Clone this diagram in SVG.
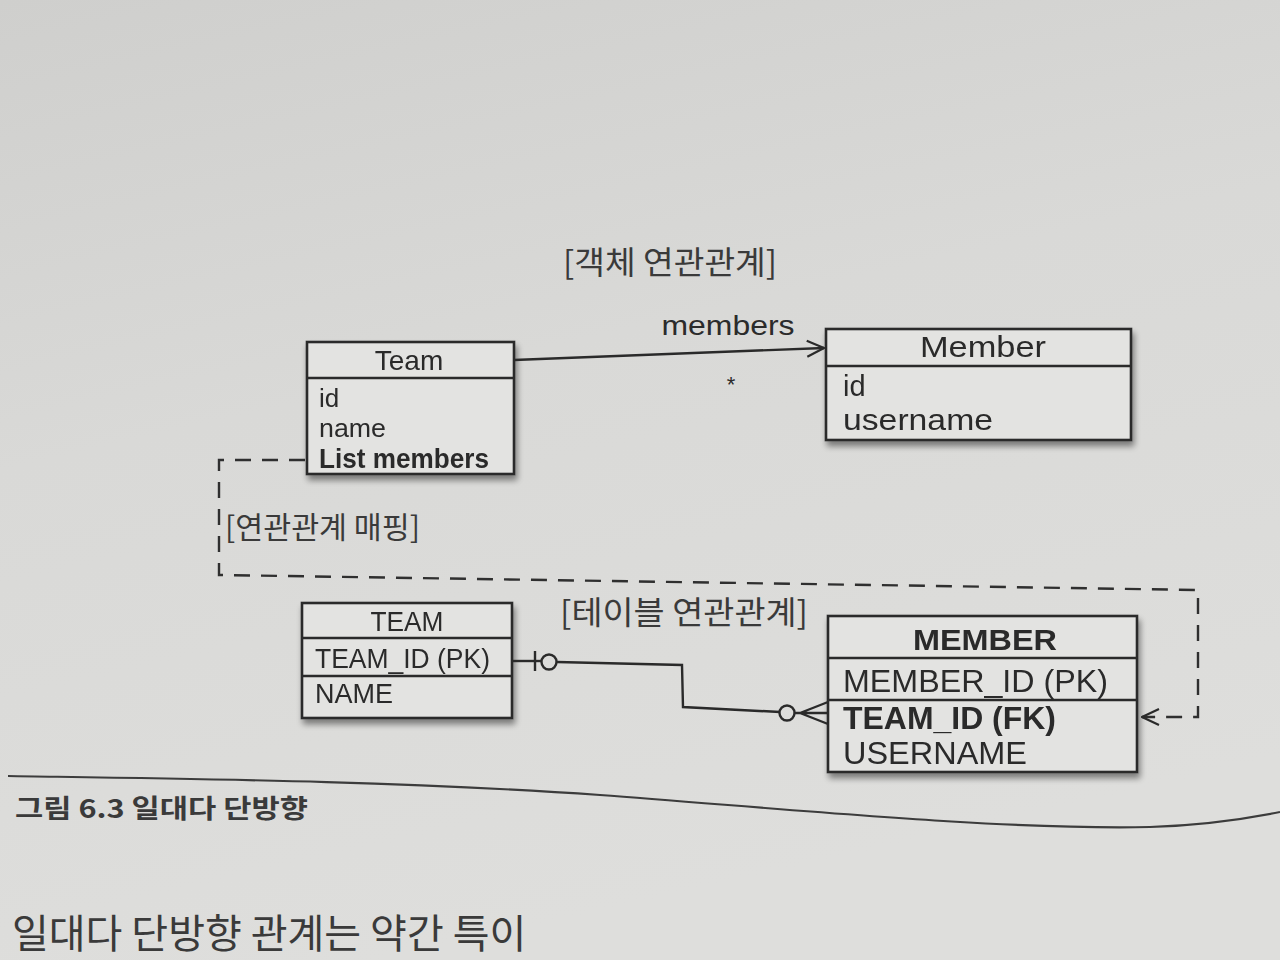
<svg xmlns="http://www.w3.org/2000/svg" width="1280" height="960" viewBox="0 0 1280 960">
<defs>
<linearGradient id="paper" x1="0" y1="0" x2="0.3" y2="1">
<stop offset="0" stop-color="#cfcfcd"/>
<stop offset="0.45" stop-color="#d9d9d7"/>
<stop offset="1" stop-color="#dededc"/>
</linearGradient>
<filter id="shadow" x="-10%" y="-10%" width="130%" height="140%">
<feGaussianBlur in="SourceAlpha" stdDeviation="3"/>
<feOffset dx="2" dy="5"/>
<feComponentTransfer><feFuncA type="linear" slope="0.45"/></feComponentTransfer>
<feMerge><feMergeNode/><feMergeNode in="SourceGraphic"/></feMerge>
</filter>
<marker id="open" viewBox="0 0 20 20" refX="19" refY="10" markerWidth="20" markerHeight="20" markerUnits="userSpaceOnUse" orient="auto">
<path d="M2,2 L19,10 L2,18" fill="none" stroke="#2a2a2a" stroke-width="2.2"/>
</marker>
</defs>
<style>
.box{fill:#e3e3e1;stroke:#2a2a2a;stroke-width:2.6}
.sep{stroke:#2a2a2a;stroke-width:2.4}
.t{font-family:"Liberation Sans","Noto Sans CJK KR",sans-serif;fill:#2b2b2b}
.k{font-family:"Noto Sans CJK KR","Liberation Sans",sans-serif;fill:#3a3a3a}
.line{fill:none;stroke:#2a2a2a;stroke-width:2.4}
.dash{fill:none;stroke:#2f2f2f;stroke-width:2.4;stroke-dasharray:16 11}
</style>
<rect width="1280" height="960" fill="url(#paper)"/>

<text class="k" x="563" y="274" font-size="32" textLength="214" lengthAdjust="spacingAndGlyphs">[객체 연관관계]</text>

<g id="node-team-object" filter="url(#shadow)">
<rect class="box" x="307" y="342" width="207" height="132"/>
<line class="sep" x1="307" y1="378" x2="514" y2="378"/>
<text class="t" x="409" y="370" font-size="28" text-anchor="middle">Team</text>
<text class="t" x="319" y="407" font-size="26">id</text>
<text class="t" x="319" y="437" font-size="26" textLength="67" lengthAdjust="spacingAndGlyphs">name</text>
<text class="t" x="319" y="468" font-size="27" font-weight="bold" textLength="170" lengthAdjust="spacingAndGlyphs">List members</text>
</g>

<g id="node-member-object" filter="url(#shadow)">
<rect class="box" x="826" y="329" width="305" height="111"/>
<line class="sep" x1="826" y1="366" x2="1131" y2="366"/>
<text class="t" x="983" y="357" font-size="30" text-anchor="middle" textLength="126" lengthAdjust="spacingAndGlyphs">Member</text>
<text class="t" x="843" y="396" font-size="29">id</text>
<text class="t" x="843" y="430" font-size="29" textLength="150" lengthAdjust="spacingAndGlyphs">username</text>
</g>

<text class="k" x="225" y="538" font-size="30" textLength="195" lengthAdjust="spacingAndGlyphs">[연관관계 매핑]</text>
<text class="k" x="560" y="624" font-size="32" textLength="248" lengthAdjust="spacingAndGlyphs">[테이블 연관관계]</text>

<g id="node-team-table" filter="url(#shadow)">
<rect class="box" x="302" y="603" width="210" height="115"/>
<line class="sep" x1="302" y1="638" x2="512" y2="638"/>
<line class="sep" x1="302" y1="676" x2="512" y2="676"/>
<text class="t" x="407" y="631" font-size="28" text-anchor="middle" textLength="73" lengthAdjust="spacingAndGlyphs">TEAM</text>
<text class="t" x="315" y="668" font-size="28" textLength="175" lengthAdjust="spacingAndGlyphs">TEAM_ID (PK)</text>
<text class="t" x="315" y="703" font-size="28" textLength="78" lengthAdjust="spacingAndGlyphs">NAME</text>
</g>

<g id="node-member-table" filter="url(#shadow)">
<rect class="box" x="828" y="616" width="309" height="156"/>
<line class="sep" x1="828" y1="658" x2="1137" y2="658"/>
<line class="sep" x1="828" y1="700" x2="1137" y2="700"/>
<text class="t" x="985" y="650" font-size="30" text-anchor="middle" font-weight="bold" textLength="144" lengthAdjust="spacingAndGlyphs">MEMBER</text>
<text class="t" x="843" y="692" font-size="31" textLength="265" lengthAdjust="spacingAndGlyphs">MEMBER_ID (PK)</text>
<text class="t" x="843" y="729" font-size="31" font-weight="bold" textLength="213" lengthAdjust="spacingAndGlyphs">TEAM_ID (FK)</text>
<text class="t" x="843" y="764" font-size="31" textLength="184" lengthAdjust="spacingAndGlyphs">USERNAME</text>
</g>

<g id="connectors">
<path class="line" d="M514,360 L824,348" marker-end="url(#open)"/>
<text class="t" x="728" y="335" font-size="28" text-anchor="middle" textLength="133" lengthAdjust="spacingAndGlyphs">members</text>
<text class="t" x="731" y="392" font-size="22" text-anchor="middle">*</text>

<path class="dash" d="M305,460 L219,460 L219,575 L1198,590 L1198,717 L1142,717" marker-end="url(#open)"/>

<path class="line" d="M512,661 L541,661"/>
<line class="line" x1="535" y1="651" x2="535" y2="671"/>
<circle class="line" cx="549" cy="662" r="7.5"/>
<path class="line" d="M557,662 L682,665 L683,707 L780,712"/>
<circle class="line" cx="787" cy="713" r="7.5"/>
<path class="line" d="M795,713 L828,713 M800,713 L828,702 M800,713 L828,724"/>
</g>

<path d="M8,776 C200,779 400,781 600,795 C800,810 1000,830 1150,827 C1210,825 1250,818 1280,812" fill="none" stroke="#3c3c3c" stroke-width="2.2"/>
<text class="k" x="15" y="818" font-size="26" font-weight="bold" textLength="293" lengthAdjust="spacingAndGlyphs">그림 6.3 일대다 단방향</text>
<text class="k" x="12" y="948" font-size="40" fill="#303030">일대다 단방향 관계는 약간 특이</text>
</svg>
